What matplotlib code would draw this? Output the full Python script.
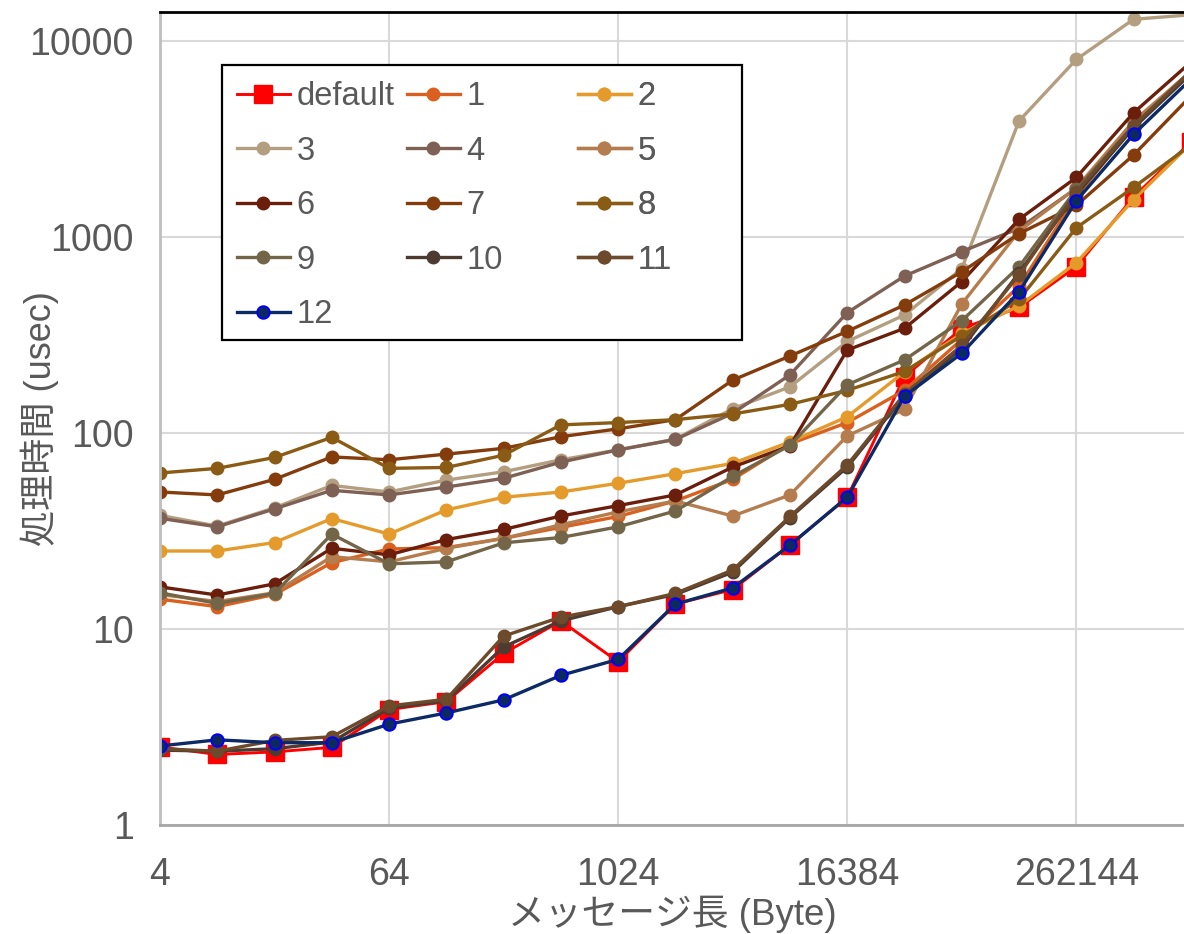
import numpy as np
import matplotlib
matplotlib.use("Agg")
import matplotlib.pyplot as plt
from matplotlib.patches import Rectangle

plt.rcParams['font.family'] = ['Liberation Sans', 'Noto Sans CJK JP', 'DejaVu Sans']

# message length (Byte)
msg_len = [4, 8, 16, 32, 64, 128, 256, 512, 1024, 2048, 4096, 8192,
           16384, 32768, 65536, 131072, 262144, 524288, 1048576]

# processing time (usec) per setting
t_default = [2.5, 2.29, 2.36, 2.49, 3.88, 4.26, 7.5, 11, 6.8, 13.4, 15.9, 26.8,
             47, 194, 341, 437, 706, 1600, 3050]
t_1 = [14.2, 13, 15, 21.8, 25.6, 26, 29, 33, 37.5, 45, 58, 88,
       113, 165, 300, 560, 1600, 3700, 7000]
t_2 = [25, 25, 27.6, 36.6, 30.5, 40.5, 47, 50, 55.4, 62, 70, 90,
       121, 205, 322, 445, 739, 1550, 3000]
t_3 = [38, 33.5, 41.5, 54, 50, 57.5, 63.4, 73, 82, 93, 133, 172,
       293, 400, 690, 3910, 8050, 12900, 13600]
t_4 = [36.7, 33.2, 41, 51, 48.3, 53, 58.7, 71, 82, 92.7, 126, 198,
       411, 632, 842, 1107, 1770, 3800, 7000]
t_5 = [15, 13.8, 15.3, 23.4, 22, 25.8, 29, 34, 39.6, 45, 37.7, 48.3,
       96.6, 132, 455, 1070, 1780, 3900, 7000]
t_6 = [16.4, 14.9, 17, 25.8, 23.9, 28.6, 32.2, 37.7, 42.6, 48.3, 67, 86,
       265, 342, 592, 1230, 2012, 4300, 7800]
t_7 = [50, 48.3, 58, 75.5, 73, 78, 83.5, 95.7, 105, 117, 186, 247,
       330, 450, 664, 1040, 1450, 2620, 5240]
t_8 = [62.5, 66, 75, 95, 66, 66.7, 77, 110, 113, 117, 125, 140,
       165, 206, 313, 480, 1114, 1790, 2950]
t_9 = [15.3, 13.5, 15.2, 30.5, 21.5, 22, 27.5, 29.3, 33.2, 40, 60, 86.5,
       176, 236, 374, 705, 1750, 3700, 7000]
t_10 = [2.41, 2.38, 2.45, 2.65, 3.95, 4.3, 8.1, 11, 13, 15, 19.5, 37,
        67, 155, 270, 657, 1650, 3600, 6800]
t_11 = [2.45, 2.38, 2.7, 2.82, 4.05, 4.38, 9.2, 11.5, 13, 15.2, 20, 37.5,
        68.7, 158, 280, 640, 1700, 3700, 7000]
t_12 = [2.53, 2.72, 2.63, 2.63, 3.27, 3.73, 4.35, 5.8, 7, 13.4, 16.2, 26.8,
        47, 154, 255, 525, 1528, 3340, 6380]

series_names = ['default', '1', '2', '3', '4', '5', '6', '7', '8', '9', '10', '11', '12']
series_data = [t_default, t_1, t_2, t_3, t_4, t_5, t_6, t_7, t_8, t_9, t_10, t_11, t_12]
series_colors = ['#FF0000', '#D9601E', '#E49B2B', '#B49E80', '#7E6054', '#B57D4E',
                 '#6A1E0B', '#843C0C', '#8A5B14', '#736548', '#4D3B32', '#6C4A2B', '#0C2A66']

x_ticks = [4, 64, 1024, 16384, 262144]
y_ticks = [1, 10, 100, 1000, 10000]

text_color = '#595959'

fig = plt.figure(figsize=(11.84, 9.34), dpi=100)
ax = fig.add_axes([0.1351, 0.1167, 0.8649, 0.8705])

handles = {}
for name, data, color in zip(series_names, series_data, series_colors):
    if name == 'default':
        h, = ax.plot(msg_len, data, color=color, lw=2.1, marker='s', ms=13.5,
                     mfc=color, mec=color)
    elif name == '12':
        h, = ax.plot(msg_len, data, color=color, lw=2.4, marker='o', ms=9,
                     mfc='#0D2A5E', mec='#0000FF', mew=1.4)
    else:
        h, = ax.plot(msg_len, data, color=color, lw=2.4, marker='o', ms=9,
                     mfc=color, mec=color)
    handles[name] = h

ax.set_xscale('log', base=2)
ax.set_yscale('log')
ax.set_xlim(4, 2 ** 19.88)
ax.set_ylim(1, 14060)

ax.set_xticks(x_ticks, labels=[str(v) for v in x_ticks])
ax.set_yticks(y_ticks, labels=[str(v) for v in y_ticks])
ax.minorticks_off()
ax.tick_params(axis='both', length=0, labelsize=27, labelcolor=text_color)
ax.tick_params(axis='x', pad=23)
ax.tick_params(axis='y', pad=19)

ax.grid(True, color='#D9D9D9', lw=1.5)
ax.set_axisbelow(True)

ax.spines['right'].set_visible(False)
ax.spines['left'].set_color('#BFBFBF')
ax.spines['left'].set_linewidth(2)
ax.spines['bottom'].set_color('#A6A6A6')
ax.spines['bottom'].set_linewidth(2)
ax.spines['top'].set_color('black')
ax.spines['top'].set_linewidth(2)

ax.set_xlabel('メッセージ長 (Byte)', fontsize=26.5, color=text_color, labelpad=2)
ax.set_ylabel('処理時間 (usec)', fontsize=26, color=text_color)
ax.yaxis.set_label_coords(-0.099, 0.5)

# legend frame with three fixed-width columns
ax.add_patch(Rectangle((0.0605, 0.5966), 0.5078, 0.3383, transform=ax.transAxes,
                       facecolor='white', edgecolor='black', lw=1.6, zorder=10))
columns = [['default', '3', '6', '9', '12'],
           ['1', '4', '7', '10'],
           ['2', '5', '8', '11']]
col_x = [0.0752, 0.2412, 0.4082]
for names, cx in zip(columns, col_x):
    leg = ax.legend([handles[n] for n in names], names, loc='upper left',
                    bbox_to_anchor=(cx, 0.915), frameon=False, fontsize=23.5,
                    labelcolor=text_color, borderpad=0, borderaxespad=0,
                    handlelength=1.62, handletextpad=0.2, labelspacing=0.72)
    leg.set_zorder(11)
    ax.add_artist(leg)

fig.savefig('out.png', dpi=100)
